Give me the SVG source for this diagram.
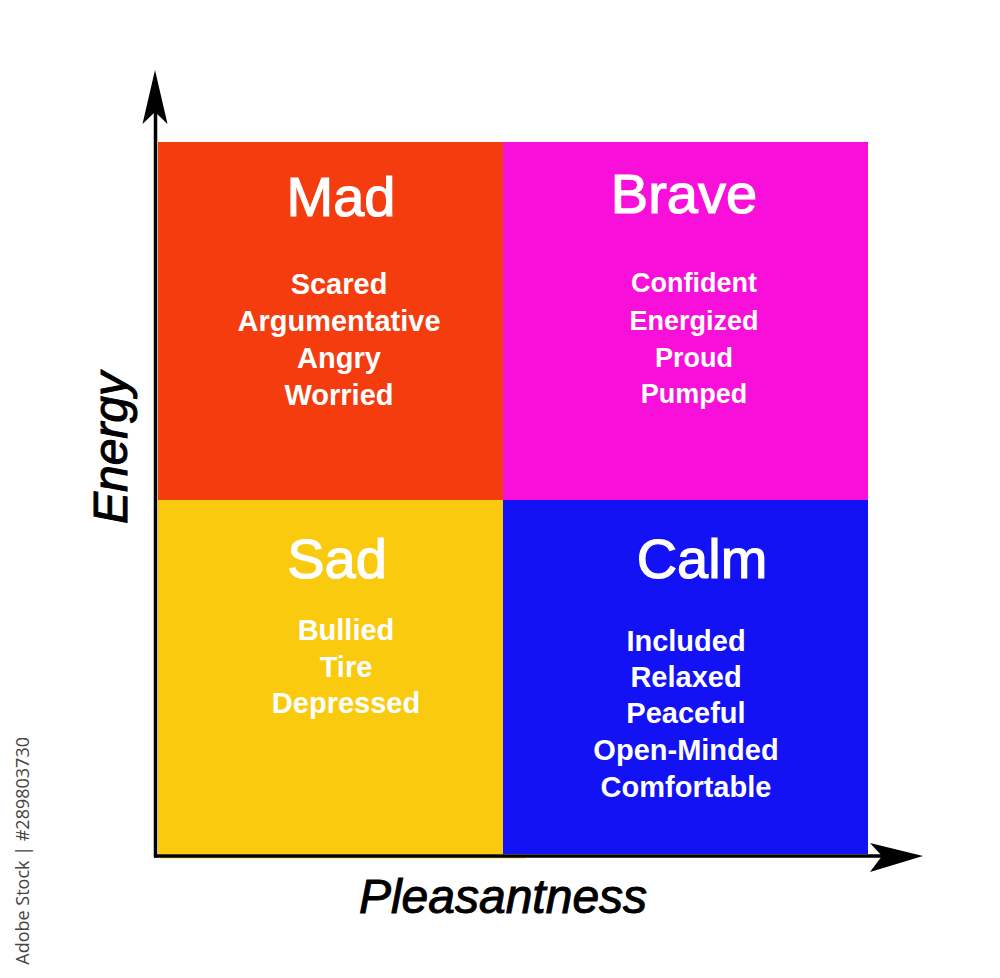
<svg xmlns="http://www.w3.org/2000/svg" width="1000" height="978" viewBox="0 0 1000 978">
<style>
.title{font-family:"Liberation Sans",Arial,sans-serif;font-size:56px;fill:#fff;stroke:#fff;stroke-width:1.2;text-anchor:middle}
.item{font-family:"Liberation Sans",Arial,sans-serif;font-size:29px;font-weight:bold;fill:#fff;text-anchor:middle}
.axislbl{font-family:"Liberation Sans",Arial,sans-serif;font-size:48px;font-style:italic;fill:#000;stroke:#000;stroke-width:1;text-anchor:middle}
.axis{stroke:#000;stroke-width:3.5;fill:none}
</style>
<rect width="1000" height="978" fill="#fff"/>
<g id="mad">
<rect x="158" y="142" width="345" height="358" fill="#F43C0F"/>
<text class="title" x="341" y="216">Mad</text>
<text class="item" x="339" y="294">Scared</text>
<text class="item" x="339" y="331">Argumentative</text>
<text class="item" x="339" y="368">Angry</text>
<text class="item" x="339" y="405">Worried</text>
</g>
<g id="brave">
<rect x="503" y="142" width="365" height="358" fill="#F810DA"/>
<text class="title" x="684" y="213">Brave</text>
<text class="item" x="694" y="292" style="font-size:27px">Confident</text>
<text class="item" x="694" y="330" style="font-size:27px">Energized</text>
<text class="item" x="694" y="367" style="font-size:27px">Proud</text>
<text class="item" x="694" y="403" style="font-size:27px">Pumped</text>
</g>
<g id="sad">
<rect x="158" y="500" width="345" height="354" fill="#FACA0F"/>
<rect x="160" y="856" width="365" height="2.5" fill="#FAD54A"/>
<text class="title" x="337" y="578">Sad</text>
<text class="item" x="346" y="640">Bullied</text>
<text class="item" x="346" y="677">Tire</text>
<text class="item" x="346" y="713">Depressed</text>
</g>
<g id="calm">
<rect x="503" y="500" width="365" height="354" fill="#1212F4"/>
<text class="title" x="702" y="578">Calm</text>
<text class="item" x="686" y="651">Included</text>
<text class="item" x="686" y="687">Relaxed</text>
<text class="item" x="686" y="723">Peaceful</text>
<text class="item" x="686" y="760">Open-Minded</text>
<text class="item" x="686" y="797">Comfortable</text>
</g>
<g id="connectors">
<line class="axis" x1="155.5" y1="857.5" x2="155.5" y2="112"/>
<line class="axis" x1="154" y1="856" x2="884" y2="856"/>
<polygon points="155,70 167.5,124 155,112 142.5,124" fill="#000"/>
<polygon points="923,856 870,843 882,856 870,872" fill="#000"/>
</g>
<g id="labels">
<text class="axislbl" transform="translate(127,448) rotate(-90)">Energy</text>
<text class="axislbl" x="503" y="913">Pleasantness</text>
<text transform="translate(29,737) rotate(-90)" style="font-family:'Open Sans',sans-serif;font-size:18px;fill:#444;text-anchor:end">Adobe Stock | #289803730</text>
</g>
</svg>
